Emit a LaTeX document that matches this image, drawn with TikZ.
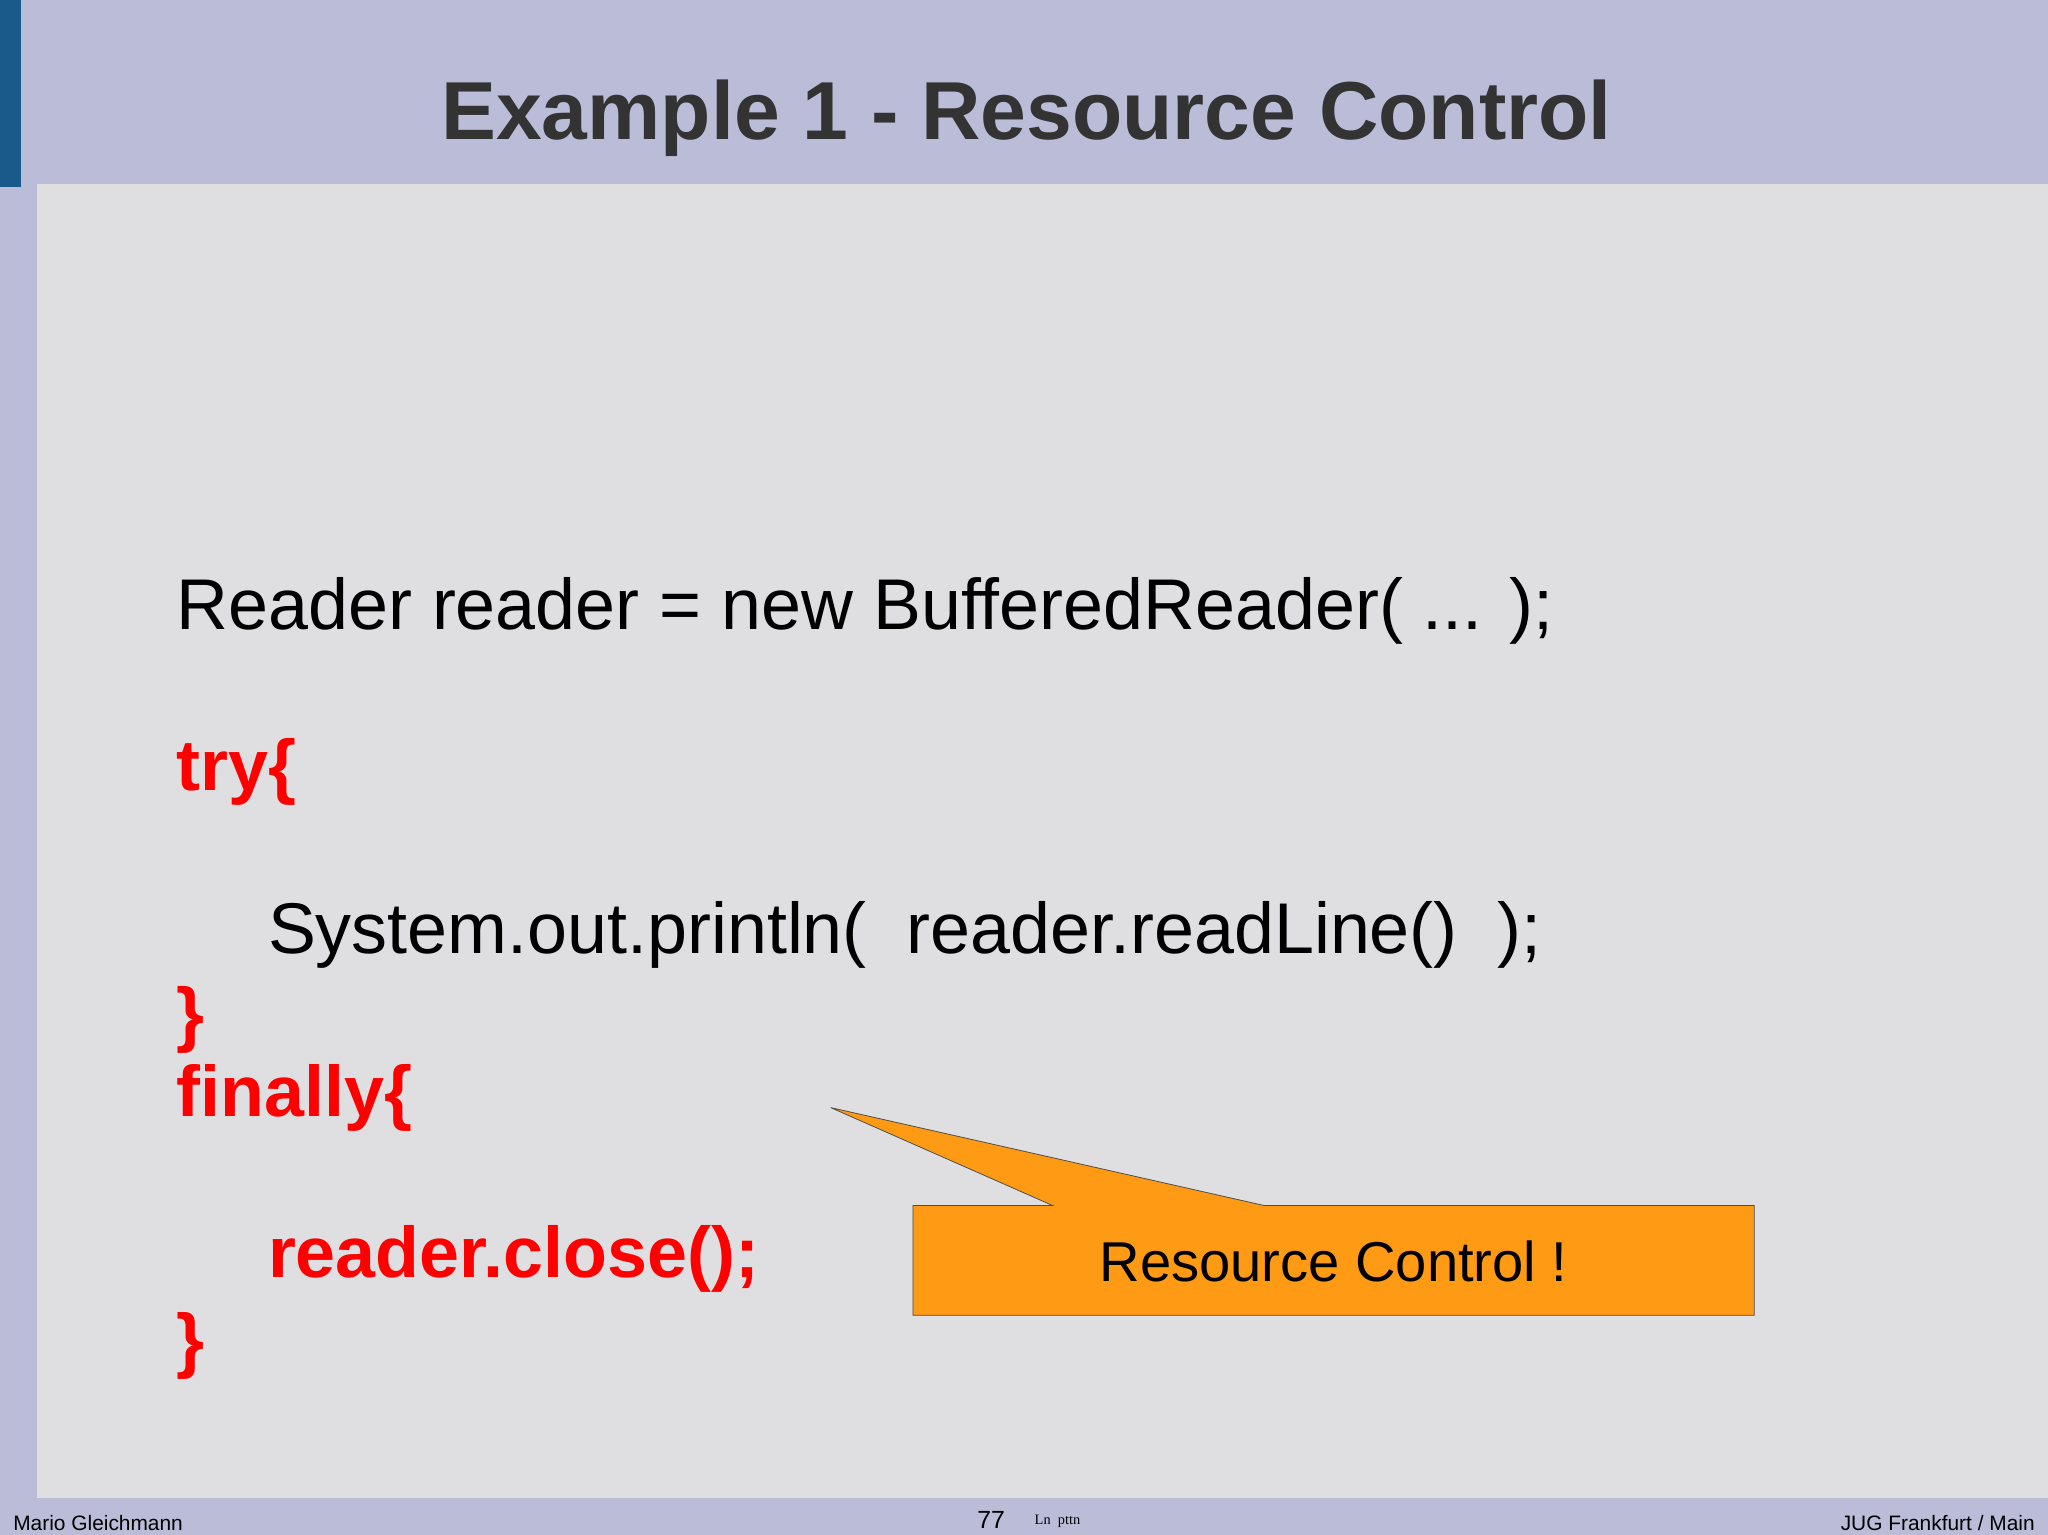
\documentclass[tikz,border=0pt]{standalone}
\usepackage{fontspec}
\setmainfont{Liberation Sans}
\newfontfamily\serifft{Liberation Serif}
\definecolor{bgl}{HTML}{BBBDD8}
\definecolor{panel}{HTML}{DFDEE0}
\definecolor{barb}{HTML}{1A5A8A}
\definecolor{ttl}{HTML}{333333}
\definecolor{orng}{HTML}{FF9A14}
\definecolor{kw}{HTML}{FF0000}
\tikzset{
 code/.style={anchor=base west,inner sep=0,font=\fontsize{55}{55}\selectfont},
 kwd/.style={code,text=kw,font=\fontsize{55}{55}\selectfont\bfseries},
 foot/.style={inner sep=0,font=\fontsize{16}{16}\selectfont}
}
\begin{document}
\begin{tikzpicture}[x=1pt,y=-1pt]
\useasboundingbox (0,0) rectangle (1568,1175);
\fill[bgl] (0,0) rectangle (1568,1175);
\fill[barb] (0,0) rectangle (16,143);
\fill[panel] (28,141) rectangle (1568,1147);
\node[inner sep=0,anchor=base,text=ttl,font=\fontsize{63}{63}\selectfont\bfseries] (title) at (786,107) {Example 1 - Resource Control};
\node[code] (l1) at (135,482) {Reader reader = new BufferedReader( ... );};
\node[kwd] (l2) at (135,605) {try\{};
\node[code] (l3) at (205,730) {System.out.println(\ \ reader.readLine()\ \ );};
\node[kwd] (l4) at (135,795) {\}};
\node[kwd] (l5) at (135,855) {finally\{};
\node[kwd] (l6) at (205,978) {reader.close();};
\node[kwd] (l7) at (135,1045) {\}};
\coordinate (tip) at (636,848);
\draw[draw=black!70,line width=0.6pt,fill=orng] (699,923) -- (806,923) -- (tip) -- (968,923) -- (1343,923) -- (1343,1007) -- (699,1007) -- cycle;
\node[inner sep=0,font=\fontsize{43}{43}\selectfont] (call) at (1021,966) {Resource Control !};
\node[foot,anchor=base west] (auth) at (10,1172) {Mario Gleichmann};
\node[foot,anchor=base west,font=\fontsize{19}{19}\selectfont] (pg) at (748,1170) {77};
\node[inner sep=0,anchor=base west,font=\serifft\fontsize{11}{11}\selectfont] (ln) at (792,1167) {Ln\ \ pttn};
\node[foot,anchor=base east] (jug) at (1558,1172) {JUG Frankfurt / Main};
\end{tikzpicture}
\end{document}
